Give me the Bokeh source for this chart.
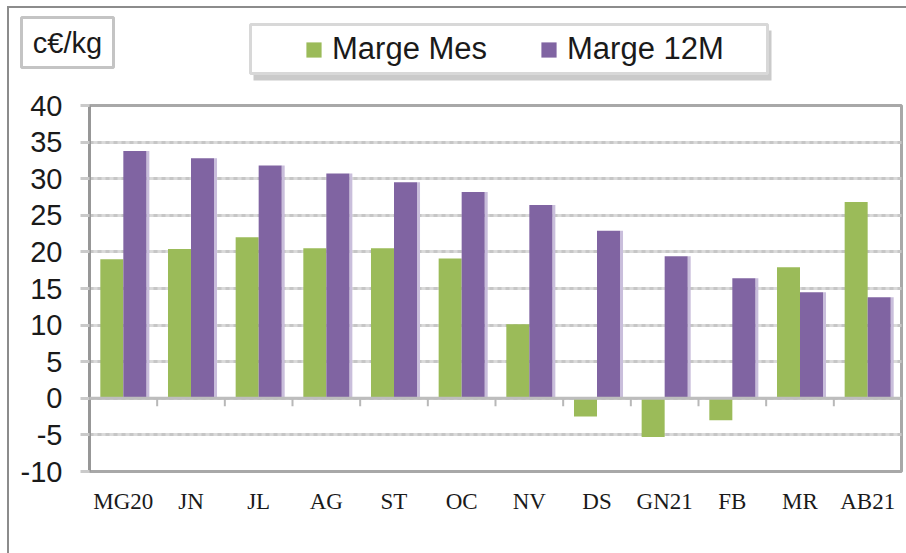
from bokeh.plotting import figure
from bokeh.layouts import column
from bokeh.models import (Range1d, FixedTicker, Legend, LegendItem, Span, Grid,
                          ColumnDataSource)
from bokeh.core.properties import value
from bokeh.embed import file_html
from bokeh.resources import INLINE

categories = ["MG20", "JN", "JL", "AG", "ST", "OC", "NV", "DS", "GN21", "FB", "MR", "AB21"]
marge_mes = [19.0, 20.4, 22.0, 20.5, 20.5, 19.1, 10.1, -2.5, -5.3, -3.0, 17.9, 26.8]
marge_12m = [33.8, 32.8, 31.8, 30.7, 29.5, 28.2, 26.4, 22.9, 19.4, 16.4, 14.5, 13.8]
y_ticks = [-10, -5, 0, 5, 10, 15, 20, 25, 30, 35, 40]
unit_label = "c€/kg"
series_names = ["Marge Mes", "Marge 12M"]

GREEN = "#9BBB59"
PURPLE = "#8064A2"
BW = 0.34

# page geometry (outer chart border at x=7, y=6, 2px wide)
OX, OY, OB = 7, 6, 2
CX, CY = OX + OB, OY + OB          # content origin
TOTAL_W, TOTAL_H = 906, 553
FIG_W = TOTAL_W - CX
HEAD_H = 77
MAIN_H = TOTAL_H - CY - HEAD_H

n = len(categories)
centers = [i + 0.5 for i in range(n)]
src = ColumnDataSource(dict(
    x_mes=[c - BW / 2 for c in centers],
    x_12m=[c + BW / 2 for c in centers],
    x_strip=[c + BW + 0.022 for c in centers],
    mes=marge_mes, m12=marge_12m,
))

# ---------------- header (unit box + legend) ----------------
h = figure(width=FIG_W, height=HEAD_H, output_backend="svg", toolbar_location=None,
           x_range=Range1d(CX, TOTAL_W), y_range=Range1d(CY + HEAD_H, CY),
           min_border=0, x_axis_location=None, y_axis_location=None,
           background_fill_color="white", border_fill_color="white")
h.frame_align = False
h.outline_line_color = None
h.grid.visible = False

# unit box
h.quad(left=[21], right=[113], top=[17], bottom=[67], fill_color="white",
       line_color="#C4C4C4", line_width=3)
h.text(x=[67], y=[42], text=[unit_label], text_font=value("Liberation Sans"),
       text_font_size="29px", text_align="center", text_baseline="middle",
       text_color="#1a1a1a")

# legend box with shadow
h.quad(left=[253], right=[771], top=[30], bottom=[80], fill_color="#9E9E9E",
       fill_alpha=0.55, line_color=None)
h.quad(left=[250], right=[767], top=[24], bottom=[73], fill_color="white",
       line_color="#D8D8D8", line_width=3)

# hidden copies of the series, used only as legend entries
lg_mes = h.vbar(x=centers, top=marge_mes, width=BW, fill_color=GREEN, line_color=None,
                visible=False)
lg_12m = h.vbar(x=centers, top=marge_12m, width=BW, fill_color=PURPLE, line_color=None,
                visible=False)
legend = Legend(items=[LegendItem(label=series_names[0], renderers=[lg_mes]),
                       LegendItem(label=series_names[1], renderers=[lg_12m])],
                orientation="horizontal", location=(304 - CX, 18),
                glyph_width=19, glyph_height=19, label_standoff=9, spacing=52,
                label_text_font="Liberation Sans", label_text_font_size="31px",
                label_text_color="#1a1a1a", inactive_fill_alpha=0,
                padding=0, margin=0, border_line_color=None, background_fill_alpha=0)
h.add_layout(legend)

# ---------------- main chart ----------------
FL = 89 - CX
FR = TOTAL_W - 901
FT = 105 - CY - HEAD_H
FH = 471 - 105
FB = MAIN_H - FT - FH

p = figure(width=FIG_W, height=MAIN_H, output_backend="svg", toolbar_location=None,
           x_range=Range1d(0, n), y_range=Range1d(y_ticks[0], y_ticks[-1]),
           min_border_left=FL, min_border_right=FR, min_border_top=FT, min_border_bottom=FB,
           background_fill_color="white", border_fill_color="white")
p.frame_align = False

p.outline_line_color = "#A8A8A8"
p.outline_line_width = 3

p.xgrid.visible = False
p.ygrid.ticker = FixedTicker(ticks=y_ticks)
p.ygrid.grid_line_color = "#DADADA"
p.ygrid.grid_line_width = 3
p.add_layout(Grid(dimension=1, ticker=FixedTicker(ticks=y_ticks),
                  grid_line_color="#C6C6C6", grid_line_width=3, grid_line_dash="4 4"))

ya = p.yaxis[0]
ya.ticker = FixedTicker(ticks=y_ticks)
ya.major_label_overrides = {t: str(t) for t in y_ticks}
ya.minor_tick_line_color = None
ya.major_tick_in = 0
ya.major_tick_out = 9
ya.major_tick_line_color = "#CACACA"
ya.major_tick_line_width = 3
ya.axis_line_color = "#979797"
ya.axis_line_width = 3
ya.major_label_standoff = 18
ya.major_label_text_font = "Liberation Sans"
ya.major_label_text_font_size = "29px"
ya.major_label_text_color = "#1a1a1a"

xa = p.xaxis[0]
xa.ticker = FixedTicker(ticks=centers)
xa.major_label_overrides = {c: lab for c, lab in zip(centers, categories)}
xa.major_tick_line_color = None
xa.minor_tick_line_color = None
xa.axis_line_color = None
xa.major_label_standoff = 11
xa.major_label_text_font = "Liberation Serif"
xa.major_label_text_font_size = "23px"
xa.major_label_text_color = "#1a1a1a"

p.add_layout(Span(location=0, dimension="width", line_color="#BDBDBD", line_width=3))
bounds = list(range(1, n))
p.segment(x0=bounds, x1=bounds, y0=[0] * len(bounds), y1=[-1.1] * len(bounds),
          line_color="#B8B8B8", line_width=2)

p.vbar(x="x_strip", width=0.045, top="m12", bottom=0, source=src,
       fill_color="#C9BEDB", line_color=None)
p.vbar(x="x_mes", width=BW, top="mes", bottom=0, source=src,
       fill_color=GREEN, line_color=None)
p.vbar(x="x_12m", width=BW, top="m12", bottom=0, source=src,
       fill_color=PURPLE, line_color=None)

layout = column(h, p, spacing=0, margin=(OY, 0, 0, OX),
                styles={"border-left": f"{OB}px solid #8C8C8C",
                        "border-top": f"{OB}px solid #8C8C8C"})

open("out.html", "w").write(file_html(layout, INLINE))
